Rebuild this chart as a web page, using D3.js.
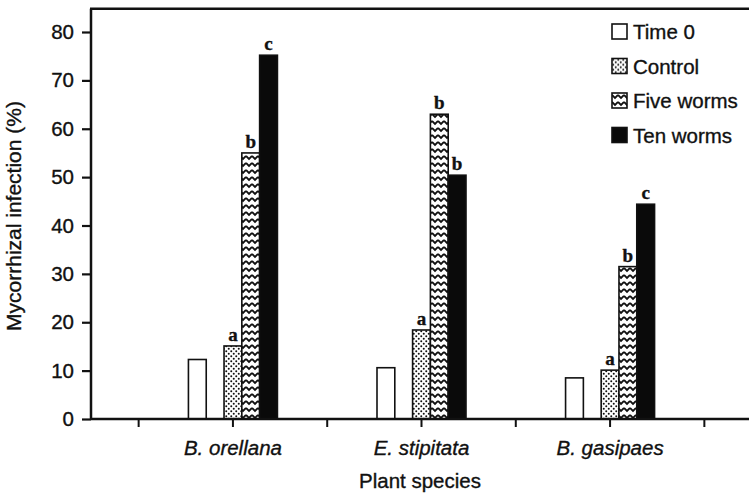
<!DOCTYPE html>
<html><head><meta charset="utf-8">
<script src="https://cdn.jsdelivr.net/npm/d3@7"></script>
<style>body{margin:0;background:#fff} svg text{font-family:"Liberation Sans",Arial,Helvetica,sans-serif;fill:#111;stroke:#111;stroke-width:0.35px}</style>
</head><body><svg id="c" width="749" height="498"></svg>
<script>
const categories = ["B. orellana", "E. stipitata", "B. gasipaes"];
const seriesNames = ["Time 0", "Control", "Five worms", "Ten worms"];
const time0 = [12.3, 10.6, 8.5];
const control = [15.1, 18.4, 10.1];
const fiveWorms = [55.0, 63.0, 31.5];
const tenWorms = [75.2, 50.4, 44.4];
const controlLetters = ["a", "a", "a"];
const fiveLetters = ["b", "b", "b"];
const tenLetters = ["c", "b", "c"];
const yTicks = [0, 10, 20, 30, 40, 50, 60, 70, 80];

const svg = d3.select("#c");
const defs = svg.append("defs");
// stipple pattern
const dots = defs.append("pattern").attr("id", "dots").attr("patternUnits", "userSpaceOnUse")
  .attr("width", 5).attr("height", 5);
dots.append("rect").attr("width", 5).attr("height", 5).attr("fill", "#fff");
dots.append("circle").attr("cx", 1.25).attr("cy", 1.25).attr("r", 1).attr("fill", "#111");
dots.append("circle").attr("cx", 3.75).attr("cy", 3.75).attr("r", 1).attr("fill", "#111");
// zigzag pattern
const zig = defs.append("pattern").attr("id", "zig").attr("patternUnits", "userSpaceOnUse")
  .attr("width", 6).attr("height", 7);
zig.append("rect").attr("width", 6).attr("height", 7).attr("fill", "#fff");
zig.append("path").attr("d", "M0,2 L3,5 L6,2").attr("fill", "none").attr("stroke", "#111").attr("stroke-width", 1.8);

const fills = {"Time 0": "#fff", "Control": "url(#dots)", "Five worms": "url(#zig)", "Ten worms": "#0a0a0a"};

const x = d3.scaleLinear().domain([0.25, 3.75]).range([91, 751]);
const inner = d3.scaleBand().domain(["Time 0", "gap", "Control", "Five worms", "Ten worms"]).range([-44, 45]);
const y = d3.scaleLinear().domain([0, 80]).range([419, 32]);

const data = [];
categories.forEach((c, i) => {
  data.push({cat: i, s: "Time 0", v: time0[i], l: ""});
  data.push({cat: i, s: "Control", v: control[i], l: controlLetters[i]});
  data.push({cat: i, s: "Five worms", v: fiveWorms[i], l: fiveLetters[i]});
  data.push({cat: i, s: "Ten worms", v: tenWorms[i], l: tenLetters[i]});
});

// bars
svg.append("g").selectAll("rect").data(data).join("rect")
  .attr("x", d => x(d.cat + 1) + inner(d.s))
  .attr("width", inner.bandwidth())
  .attr("y", d => y(d.v))
  .attr("height", d => y(0) - y(d.v))
  .attr("fill", d => fills[d.s])
  .attr("stroke", "#111").attr("stroke-width", 1.6);

// letters
svg.append("g").selectAll("text").data(data.filter(d => d.l)).join("text")
  .attr("x", d => x(d.cat + 1) + inner(d.s) + inner.bandwidth() / 2)
  .attr("y", d => y(d.v) - 5)
  .attr("text-anchor", "middle")
  .style("font-family", "'Liberation Serif','Times New Roman',serif")
  .style("font-weight", "bold").style("font-size", "19px")
  .text(d => d.l);

// y axis
const yAxis = svg.append("g").attr("transform", "translate(91,0)")
  .call(d3.axisLeft(y).tickValues(yTicks).tickSize(9).tickSizeOuter(0).tickPadding(8));
yAxis.select(".domain").remove();
yAxis.selectAll(".tick line").attr("stroke", "#111").attr("stroke-width", 2.2);
yAxis.selectAll(".tick text").style("font-size", "20.5px");

// x axis
const xAxis = svg.append("g").attr("transform", "translate(0,419)")
  .call(d3.axisBottom(x).tickValues([0.5, 1, 1.5, 2, 2.5, 3, 3.5]).tickSize(8).tickSizeOuter(0).tickPadding(13)
    .tickFormat(d => Number.isInteger(d) ? categories[d - 1] : ""));
xAxis.select(".domain").remove();
xAxis.selectAll(".tick line").attr("stroke", "#111").attr("stroke-width", 2);
xAxis.selectAll(".tick text").style("font-size", "20.5px").style("font-style", "italic");

// frame lines
svg.append("line").attr("x1", 91).attr("x2", 749).attr("y1", 419).attr("y2", 419).attr("stroke", "#111").attr("stroke-width", 2.5);
svg.append("line").attr("x1", 91).attr("x2", 91).attr("y1", 420).attr("y2", y(84.8)).attr("stroke", "#111").attr("stroke-width", 2.5);
svg.append("line").attr("x1", 90).attr("x2", 749).attr("y1", y(84.8)).attr("y2", y(84.8)).attr("stroke", "#111").attr("stroke-width", 2.5);

// axis titles
svg.append("text").attr("x", 420).attr("y", 488).attr("text-anchor", "middle").style("font-size", "20.5px").text("Plant species");
svg.append("text").attr("transform", "translate(21,216) rotate(-90)").attr("text-anchor", "middle").style("font-size", "21px").text("Mycorrhizal infection (%)");

// legend
const leg = svg.append("g").selectAll("g").data(seriesNames).join("g")
  .attr("transform", (d, i) => `translate(612,${24 + i * 34.5})`);
leg.append("rect").attr("width", 15).attr("height", 15).attr("fill", d => fills[d]).attr("stroke", "#111").attr("stroke-width", 1.6);
leg.append("text").attr("x", 21).attr("y", 8).attr("dy", "0.35em").style("font-size", "20.5px").text(d => d);
</script></body></html>
